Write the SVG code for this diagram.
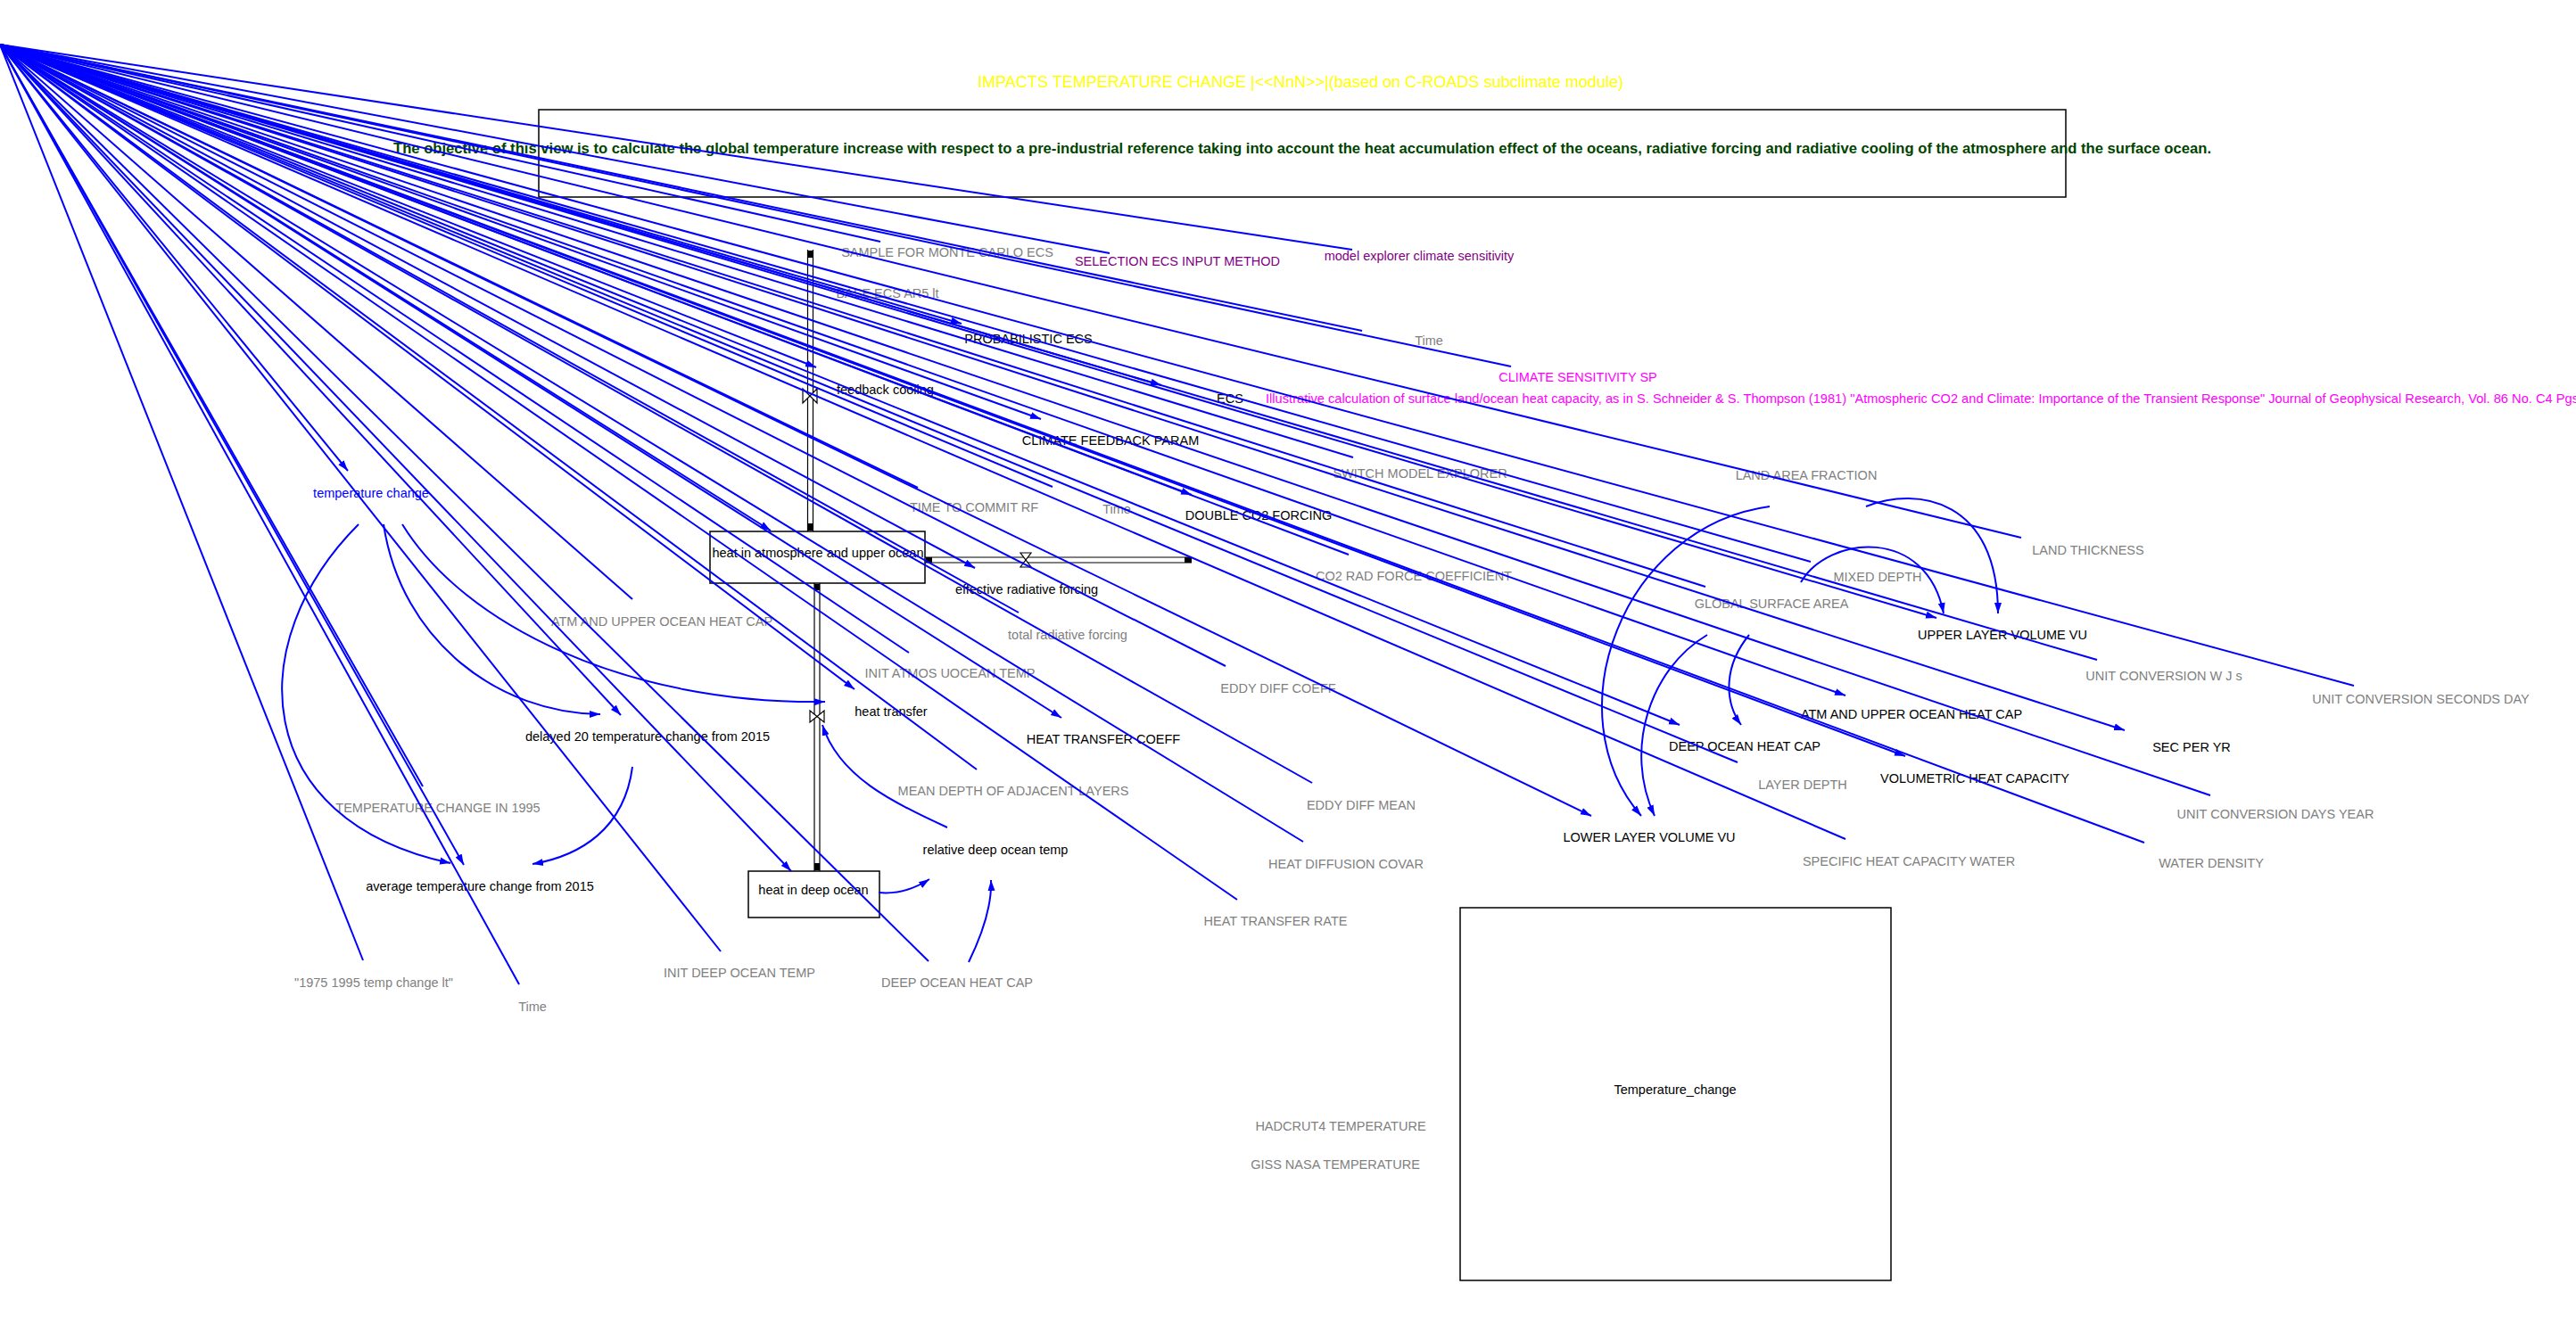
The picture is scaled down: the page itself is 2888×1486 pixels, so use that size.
<svg xmlns="http://www.w3.org/2000/svg" width="2888" height="1486" viewBox="0 0 2888 1486">
<defs>
<style>
text{font-family:"Liberation Sans",Arial,sans-serif;font-size:14.5px;text-anchor:middle}
.g{fill:#808080}.k{fill:#000}.p{fill:#800080}.m{fill:#ff00ff}.b{fill:#0000ff}
.ln{stroke:#0000ff;stroke-width:2;fill:none}
.a{marker-end:url(#ah)}
.box{fill:none;stroke:#000;stroke-width:1.5}
.pipe{stroke:#000;stroke-width:1.2;fill:none}
.valve{fill:#fff;stroke:#000;stroke-width:1.2}
.cap{fill:#000}
</style>
<marker id="ah" viewBox="0 0 12 10" refX="12" refY="5" markerWidth="12" markerHeight="10" markerUnits="userSpaceOnUse" orient="auto"><path d="M0,1 L12,5 L0,9 z" fill="#0000ff"/></marker>
</defs>
<rect width="2888" height="1486" fill="#fff"/>

<g id="title"><text x="1458" y="98" style="font-size:18px;fill:#ffff00" textLength="724" lengthAdjust="spacingAndGlyphs">IMPACTS TEMPERATURE CHANGE |&lt;&lt;NnN&gt;&gt;|(based on C-ROADS subclimate module)</text></g>
<g id="description"><rect class="box" x="604" y="123" width="1712" height="98"/><text x="1460" y="172" style="font-size:17px;font-weight:bold;fill:#004400" textLength="2038" lengthAdjust="spacingAndGlyphs">The objective of this view is to calculate the global temperature increase with respect to a pre-industrial reference taking into account the heat accumulation effect of the oceans, radiative forcing and radiative cooling of the atmosphere and the surface ocean.</text></g>

<g id="flows">
<g id="flow-feedback-cooling">
<line class="pipe" x1="905.5" y1="280" x2="905.5" y2="596"/><line class="pipe" x1="911.5" y1="280" x2="911.5" y2="596"/>
<rect class="cap" x="905.5" y="281" width="6" height="8"/><rect class="cap" x="905.5" y="587" width="6" height="8"/>
<path class="valve" d="M900,436 L916,452 L916,436 L900,452 Z"/>
<text class="k" x="938" y="442" style="text-anchor:start">feedback cooling</text>
</g>
<g id="flow-effective-radiative-forcing">
<line class="pipe" x1="1037" y1="625" x2="1336" y2="625"/><line class="pipe" x1="1037" y1="631" x2="1336" y2="631"/>
<rect class="cap" x="1038" y="625" width="7" height="6"/><rect class="cap" x="1328" y="625" width="8" height="6"/>
<path class="valve" d="M1144,620 L1156,620 L1144,636 L1156,636 Z"/>
<text class="k" x="1151" y="666">effective radiative forcing</text>
</g>
<g id="flow-heat-transfer">
<line class="pipe" x1="913" y1="654" x2="913" y2="977"/><line class="pipe" x1="919" y1="654" x2="919" y2="977"/>
<rect class="cap" x="913" y="655" width="6" height="7"/><rect class="cap" x="913" y="968" width="6" height="8"/>
<path class="valve" d="M908,797 L924,810 L924,797 L908,810 Z"/>
<text class="k" x="999" y="803">heat transfer</text>
</g>
</g>

<g id="stock-heat-atm"><rect class="box" x="796" y="596" width="241" height="58"/><text class="k" x="917" y="625">heat in atmosphere and upper ocean</text></g>
<g id="stock-heat-deep"><rect class="box" x="839" y="977" width="147" height="52"/><text class="k" x="912" y="1003">heat in deep ocean</text></g>
<g id="graph-temperature-change"><rect class="box" x="1637" y="1018" width="483" height="418"/><text class="k" x="1878" y="1227">Temperature_change</text></g>

<g id="vars">
<g id="v-sample"><text class="g" x="1062" y="288">SAMPLE FOR MONTE CARLO ECS</text></g>
<g id="v-selection"><text class="p" x="1320" y="298">SELECTION ECS INPUT METHOD</text></g>
<g id="v-model-explorer"><text class="p" x="1591" y="292">model explorer climate sensitivity</text></g>
<g id="v-base-ecs"><text class="g" x="995" y="334">BASE ECS AR5 lt</text></g>
<g id="v-probabilistic"><text class="k" x="1153" y="385">PROBABILISTIC ECS</text></g>
<g id="v-time1"><text class="g" x="1602" y="387">Time</text></g>
<g id="v-cs-sp"><text class="m" x="1769" y="428">CLIMATE SENSITIVITY SP</text></g>
<g id="v-ecs"><text class="k" x="1379" y="452">ECS</text></g>
<g id="v-illustrative"><text class="m" x="1419" y="452" style="text-anchor:start" textLength="1472" lengthAdjust="spacingAndGlyphs">Illustrative calculation of surface land/ocean heat capacity, as in S. Schneider &amp; S. Thompson (1981) "Atmospheric CO2 and Climate: Importance of the Transient Response" Journal of Geophysical Research, Vol. 86 No. C4 Pgs</text></g>
<g id="v-cfp"><text class="k" x="1245" y="499">CLIMATE FEEDBACK PARAM</text></g>
<g id="v-switch"><text class="g" x="1592" y="536">SWITCH MODEL EXPLORER</text></g>
<g id="v-laf"><text class="g" x="2025" y="538">LAND AREA FRACTION</text></g>
<g id="v-ttc"><text class="g" x="1092" y="574">TIME TO COMMIT RF</text></g>
<g id="v-time2"><text class="g" x="1252" y="576">Time</text></g>
<g id="v-double"><text class="k" x="1411" y="583">DOUBLE CO2 FORCING</text></g>
<g id="v-tc"><text class="b" x="416" y="558">temperature change</text></g>
<g id="v-land-th"><text class="g" x="2341" y="622">LAND THICKNESS</text></g>
<g id="v-co2rad"><text class="g" x="1585" y="651">CO2 RAD FORCE COEFFICIENT</text></g>
<g id="v-mixed"><text class="g" x="2105" y="652">MIXED DEPTH</text></g>
<g id="v-gsa"><text class="g" x="1986" y="682">GLOBAL SURFACE AREA</text></g>
<g id="v-atm-cap-g"><text class="g" x="742" y="702">ATM AND UPPER OCEAN HEAT CAP</text></g>
<g id="v-trf"><text class="g" x="1197" y="717">total radiative forcing</text></g>
<g id="v-ulv"><text class="k" x="2245" y="717">UPPER LAYER VOLUME VU</text></g>
<g id="v-init-atm"><text class="g" x="1065" y="760">INIT ATMOS UOCEAN TEMP</text></g>
<g id="v-ucwjs"><text class="g" x="2426" y="763">UNIT CONVERSION W J s</text></g>
<g id="v-edc"><text class="g" x="1433" y="777">EDDY DIFF COEFF</text></g>
<g id="v-ucsd"><text class="g" x="2714" y="789">UNIT CONVERSION SECONDS DAY</text></g>
<g id="v-atm-cap"><text class="k" x="2143" y="806">ATM AND UPPER OCEAN HEAT CAP</text></g>
<g id="v-delayed"><text class="k" x="726" y="831">delayed 20 temperature change from 2015</text></g>
<g id="v-htc"><text class="k" x="1237" y="834">HEAT TRANSFER COEFF</text></g>
<g id="v-doc"><text class="k" x="1956" y="842">DEEP OCEAN HEAT CAP</text></g>
<g id="v-spy"><text class="k" x="2457" y="843">SEC PER YR</text></g>
<g id="v-vhc"><text class="k" x="2214" y="878">VOLUMETRIC HEAT CAPACITY</text></g>
<g id="v-ld"><text class="g" x="2021" y="885">LAYER DEPTH</text></g>
<g id="v-mdal"><text class="g" x="1136" y="892">MEAN DEPTH OF ADJACENT LAYERS</text></g>
<g id="v-edm"><text class="g" x="1526" y="908">EDDY DIFF MEAN</text></g>
<g id="v-tc1995"><text class="g" x="491" y="911">TEMPERATURE CHANGE IN 1995</text></g>
<g id="v-ucdy"><text class="g" x="2551" y="918">UNIT CONVERSION DAYS YEAR</text></g>
<g id="v-llv"><text class="k" x="1849" y="944">LOWER LAYER VOLUME VU</text></g>
<g id="v-rdot"><text class="k" x="1116" y="958">relative deep ocean temp</text></g>
<g id="v-shcw"><text class="g" x="2140" y="971">SPECIFIC HEAT CAPACITY WATER</text></g>
<g id="v-wd"><text class="g" x="2479" y="973">WATER DENSITY</text></g>
<g id="v-hdc"><text class="g" x="1509" y="974">HEAT DIFFUSION COVAR</text></g>
<g id="v-avg"><text class="k" x="538" y="999">average temperature change from 2015</text></g>
<g id="v-htr"><text class="g" x="1430" y="1038">HEAT TRANSFER RATE</text></g>
<g id="v-idot"><text class="g" x="829" y="1096">INIT DEEP OCEAN TEMP</text></g>
<g id="v-1975"><text class="g" x="419" y="1107">"1975 1995 temp change lt"</text></g>
<g id="v-doc-g"><text class="g" x="1073" y="1107">DEEP OCEAN HEAT CAP</text></g>
<g id="v-time3"><text class="g" x="597" y="1134">Time</text></g>
<g id="v-hadcrut"><text class="g" x="1503" y="1268">HADCRUT4 TEMPERATURE</text></g>
<g id="v-giss"><text class="g" x="1497" y="1311">GISS NASA TEMPERATURE</text></g>
</g>

<g id="connectors">
<line class="ln" x1="0" y1="50" x2="1516" y2="280"/>
<line class="ln" x1="0" y1="50" x2="1244" y2="284"/>
<line class="ln" x1="0" y1="50" x2="987" y2="271"/>
<line class="ln" x1="0" y1="50" x2="1527" y2="371"/>
<line class="ln" x1="0" y1="50" x2="1694" y2="411"/>
<line class="ln a" x1="0" y1="50" x2="1078" y2="363"/>
<line class="ln a" x1="0" y1="50" x2="915" y2="412"/>
<line class="ln a" x1="0" y1="50" x2="1302" y2="432"/>
<line class="ln a" x1="0" y1="50" x2="1167" y2="470"/>
<line class="ln" x1="0" y1="50" x2="1180" y2="546"/>
<line class="ln" x1="0" y1="50" x2="1029" y2="547"/>
<line class="ln a" x1="0" y1="50" x2="1336" y2="555"/>
<line class="ln a" x1="0" y1="50" x2="864" y2="595"/>
<line class="ln a" x1="0" y1="50" x2="1093" y2="637"/>
<line class="ln" x1="0" y1="50" x2="1142" y2="687"/>
<line class="ln" x1="0" y1="50" x2="1019" y2="732"/>
<line class="ln" x1="0" y1="50" x2="1374" y2="747"/>
<line class="ln a" x1="0" y1="50" x2="958" y2="773"/>
<line class="ln a" x1="0" y1="50" x2="1190" y2="805"/>
<line class="ln" x1="0" y1="50" x2="1095" y2="863"/>
<line class="ln" x1="0" y1="50" x2="1471" y2="878"/>
<line class="ln" x1="0" y1="50" x2="1461" y2="944"/>
<line class="ln" x1="0" y1="50" x2="1387" y2="1009"/>
<line class="ln" x1="0" y1="50" x2="1041" y2="1078"/>
<line class="ln a" x1="0" y1="50" x2="887" y2="977"/>
<line class="ln" x1="0" y1="50" x2="808" y2="1067"/>
<line class="ln" x1="0" y1="50" x2="582" y2="1104"/>
<line class="ln" x1="0" y1="50" x2="407" y2="1077"/>
<line class="ln a" x1="0" y1="50" x2="520" y2="970"/>
<line class="ln a" x1="0" y1="50" x2="696" y2="802"/>
<line class="ln a" x1="0" y1="50" x2="390" y2="528"/>
<line class="ln" x1="0" y1="50" x2="474" y2="882"/>
<line class="ln" x1="0" y1="50" x2="709" y2="672"/>
<line class="ln" x1="0" y1="50" x2="1512" y2="622"/>
<line class="ln" x1="0" y1="50" x2="1517" y2="513"/>
<line class="ln" x1="0" y1="50" x2="2030" y2="630"/>
<line class="ln" x1="0" y1="50" x2="1912" y2="658"/>
<line class="ln" x1="0" y1="50" x2="2266" y2="603"/>
<line class="ln" x1="0" y1="50" x2="2351" y2="740"/>
<line class="ln" x1="0" y1="50" x2="2639" y2="769"/>
<line class="ln" x1="0" y1="50" x2="2478" y2="892"/>
<line class="ln" x1="0" y1="50" x2="2404" y2="945"/>
<line class="ln" x1="0" y1="50" x2="2069" y2="941"/>
<line class="ln" x1="0" y1="50" x2="1948" y2="855"/>
<line class="ln a" x1="0" y1="50" x2="2171" y2="693"/>
<line class="ln a" x1="0" y1="50" x2="2069" y2="780"/>
<line class="ln a" x1="0" y1="50" x2="1883" y2="813"/>
<line class="ln a" x1="0" y1="50" x2="2136" y2="848"/>
<line class="ln a" x1="0" y1="50" x2="2382" y2="819"/>
<line class="ln a" x1="0" y1="50" x2="1784" y2="915"/>
<path class="ln a" d="M402,588 C270,720 280,920 505,968"/>
<path class="ln a" d="M430,588 C450,720 560,800 673,801"/>
<path class="ln a" d="M451,588 C520,700 700,790 925,787"/>
<path class="ln a" d="M709,860 C700,930 650,960 597,969"/>
<path class="ln a" d="M985,1001 C1005,1003 1025,997 1042,986"/>
<path class="ln a" d="M1086,1079 C1105,1040 1112,1010 1111,987"/>
<path class="ln a" d="M1062,928 C1000,900 940,870 922,813"/>
<path class="ln a" d="M2092,568 C2150,545 2240,560 2240,688"/>
<path class="ln a" d="M2019,653 C2050,600 2160,590 2179,688"/>
<path class="ln a" d="M1984,568 C1820,590 1740,800 1840,915"/>
<path class="ln a" d="M1914,712 C1850,750 1820,840 1855,915"/>
<path class="ln a" d="M1961,712 C1930,750 1935,790 1952,813"/>
</g>
</svg>
